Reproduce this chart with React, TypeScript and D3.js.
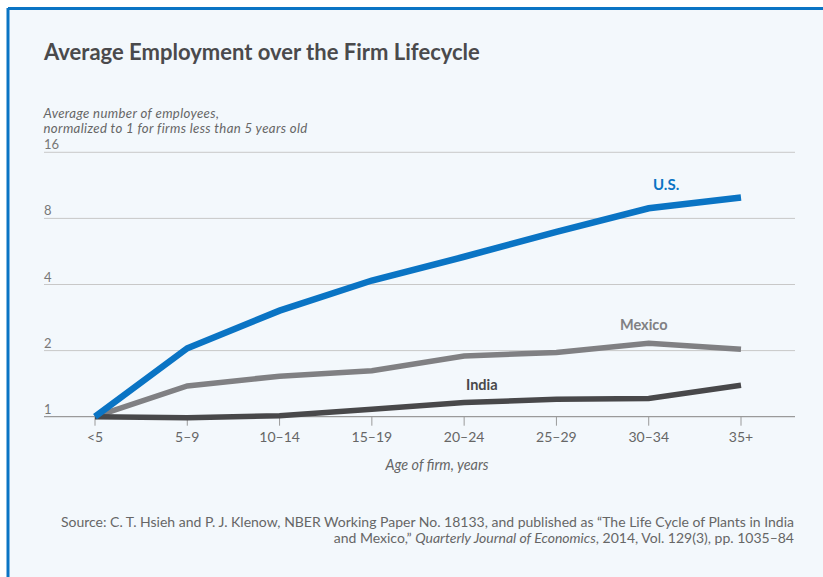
import React from "react";
import * as d3 from "d3";

const categories = ["<5", "5–9", "10–14", "15–19", "20–24", "25–29", "30–34", "35+"];
const usValues = [1, 2.05, 3.04, 4.17, 5.35, 6.95, 8.9, 9.95];
const mexicoValues = [1, 1.38, 1.53, 1.62, 1.89, 1.96, 2.16, 2.03];
const indiaValues = [1, 0.99, 1.01, 1.08, 1.16, 1.2, 1.21, 1.39];
const yTicks = [1, 2, 4, 8, 16];

const W = 823;
const H = 577;
const FONT = "Lato, 'Open Sans', sans-serif";

export default function App() {
  const x = d3.scalePoint<string>().domain(categories).range([95, 741]);
  const y = d3.scaleLog().base(2).domain([1, 16]).range([416.7, 152.3]);
  const line = d3
    .line<number>()
    .x((_, i) => x(categories[i]) as number)
    .y((d) => y(d));

  const series = [
    { name: "Mexico", values: mexicoValues, color: "#808083", width: 5.5 },
    { name: "India", values: indiaValues, color: "#48484a", width: 5.5 },
    { name: "U.S.", values: usValues, color: "#0a74c4", width: 6.5 },
  ];

  return (
    <div style={{ position: "absolute", left: 0, top: 0 }}>
      <svg width={W} height={H} style={{ display: "block", fontFamily: FONT }}>
        <rect x={0} y={0} width={W} height={H} fill="#ffffff" />
        <rect x={8} y={8} width={W} height={H} fill="#f3f8fc" />
        <line x1={8} y1={8.5} x2={W} y2={8.5} stroke="#0a74c4" strokeWidth={3} />
        <line x1={8} y1={8} x2={8} y2={H} stroke="#0a74c4" strokeWidth={3} />

        <text x={44} y={60} fontSize={22} fontWeight={700} fill="#4a4a4c">
          Average Employment over the Firm Lifecycle
        </text>

        <text x={43.5} y={118} fontSize={13.2} letterSpacing={0.35} fontStyle="italic" fill="#666">
          Average number of employees,
        </text>
        <text x={43.5} y={133} fontSize={13.2} letterSpacing={0.35} fontStyle="italic" fill="#666">
          normalized to 1 for firms less than 5 years old
        </text>

        {yTicks.map((t) => (
          <g key={t}>
            <line
              x1={44}
              x2={795}
              y1={y(t)}
              y2={y(t)}
              stroke={t === 1 ? "#9a9a9a" : "#c8c8c8"}
              strokeWidth={t === 1 ? 1.3 : 1}
            />
            <text x={44} y={y(t) - 3} fontSize={13} fill="#777">
              {t}
            </text>
          </g>
        ))}

        {categories.map((c) => (
          <g key={c}>
            <line
              x1={x(c)}
              x2={x(c)}
              y1={y(1)}
              y2={y(1) + 9}
              stroke="#9a9a9a"
              strokeWidth={1}
            />
            <text x={x(c)} y={441.5} fontSize={14} fill="#666" textAnchor="middle">
              {c}
            </text>
          </g>
        ))}

        <text x={437} y={470} fontSize={14.4} fontStyle="italic" fill="#666" textAnchor="middle">
          Age of firm, years
        </text>

        {series.map((s) => (
          <path
            key={s.name}
            d={line(s.values) || ""}
            fill="none"
            stroke={s.color}
            strokeWidth={s.width}
            strokeLinejoin="miter"
          />
        ))}

        <text x={653} y={190} fontSize={15} fontWeight={700} fill="#0a74c4">
          U.S.
        </text>
        <text x={620} y={330} fontSize={14.5} fontWeight={700} fill="#808083">
          Mexico
        </text>
        <text x={466} y={390} fontSize={14.5} fontWeight={700} fill="#48484a">
          India
        </text>

        <text x={794} y={527} fontSize={14} fill="#666" textAnchor="end">
          Source: C. T. Hsieh and P. J. Klenow, NBER Working Paper No. 18133, and published as “The Life Cycle of Plants in India
        </text>
        <text x={794} y={542.5} fontSize={14} fill="#666" textAnchor="end">
          and Mexico,” <tspan fontStyle="italic">Quarterly Journal of Economics</tspan>, 2014, Vol. 129(3), pp. 1035–84
        </text>
      </svg>
    </div>
  );
}
